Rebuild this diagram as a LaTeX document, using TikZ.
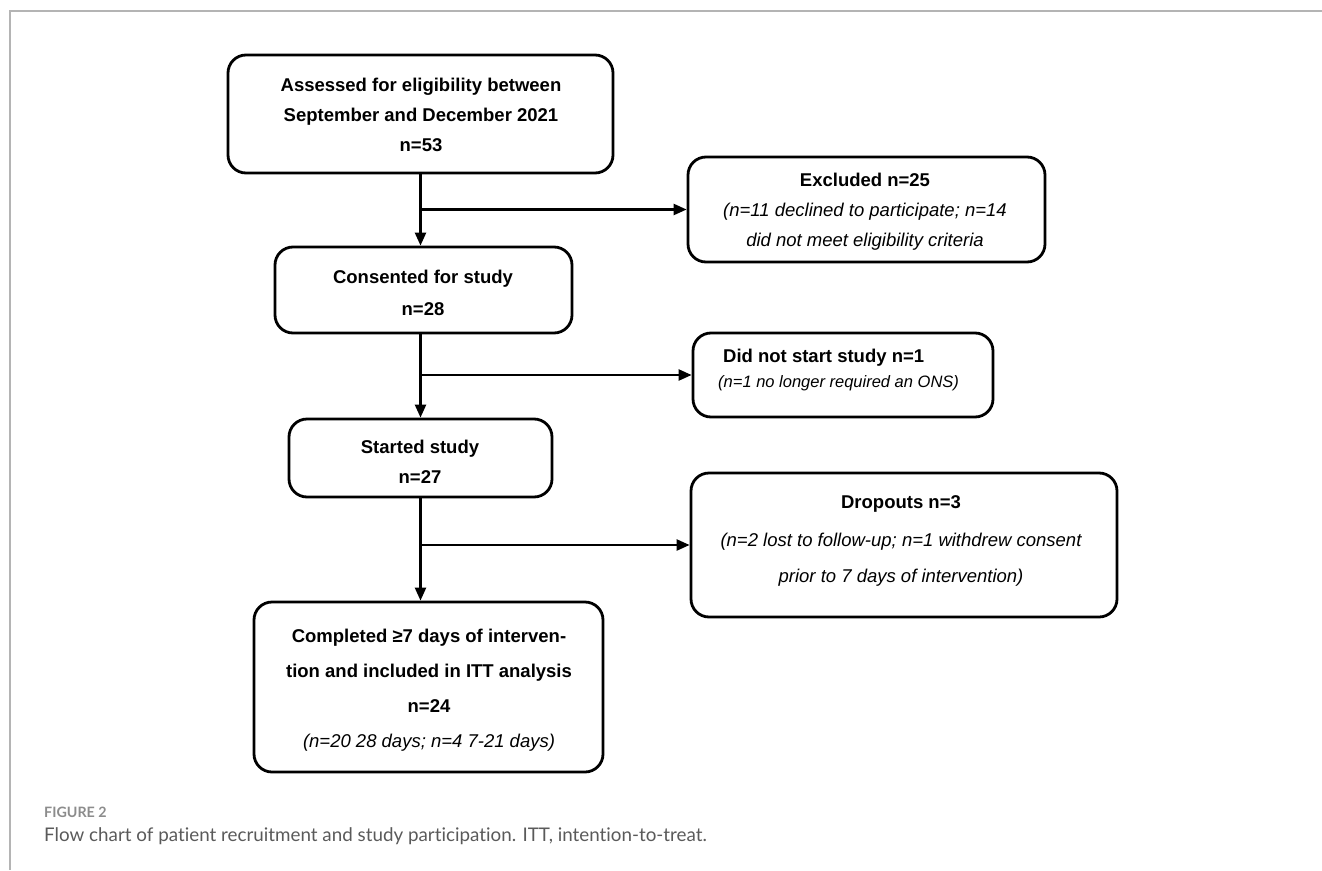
\documentclass[tikz,border=0pt]{standalone}
\usepackage{fontspec}
\setmainfont{Liberation Sans}
\newfontfamily\capfont[Ligatures={NoCommon,NoRare}]{Lato}
\usetikzlibrary{arrows.meta,calc}
\definecolor{framegray}{HTML}{B4B4B4}
\definecolor{figgray}{HTML}{8C8C8C}
\definecolor{capgray}{HTML}{5A5A5A}
\tikzset{
  box/.style={draw, line width=2.8pt, rounded corners=18pt, inner sep=0pt},
  txt/.style={align=center, inner sep=0pt, font=\fontsize{18.5}{30}\selectfont},
  arr/.style={line width=2.4pt, -{Triangle[length=13pt,width=11pt]}},
}
\begin{document}
\begin{tikzpicture}[x=1pt,y=-1pt]
\useasboundingbox (0,0) rectangle (1322,870);
\draw[framegray, line width=1.5pt] (10,870) -- (10,11) -- (1322,11);

% boxes
\node[box, minimum width=385pt, minimum height=118pt] (b1) at (420.5,114) {};
\node[box, minimum width=357pt, minimum height=105pt] (excl) at (866.5,209.5) {};
\node[box, minimum width=297pt, minimum height=86pt] (cons) at (423.5,290) {};
\node[box, minimum width=300pt, minimum height=84pt] (dns) at (843,375) {};
\node[box, minimum width=263pt, minimum height=78pt] (st) at (420.5,458) {};
\node[box, minimum width=426pt, minimum height=144pt] (drop) at (904,545) {};
\node[box, minimum width=349pt, minimum height=170pt] (comp) at (428.5,687) {};

% texts
\node[txt] (t1) at (421,115) {\bfseries Assessed for eligibility between\\\bfseries September and December 2021\\\bfseries n=53};
\node[txt] (t2) at (865,212) {\bfseries Excluded n=25\\\itshape (n=11 declined to participate; n=14\\\itshape did not meet eligibility criteria};
\node[txt] (t3) at (423,293) {\bfseries Consented for study\\[2pt]\bfseries n=28};
\node[txt, align=left, anchor=west] (t4) at (718,370) {\hspace*{5pt}\bfseries Did not start study n=1\\[-5pt]{\itshape\fontsize{16.5}{20}\selectfont (n=1 no longer required an ONS)}};
\node[txt] (t5) at (420,462) {\bfseries Started study\\\bfseries n=27};
\node[txt] (t6) at (901,541) {\bfseries Dropouts n=3\\[8pt]\itshape (n=2 lost to follow-up; n=1 withdrew consent\\[6pt]\itshape prior to 7 days of intervention)};
\node[txt] (t7) at (429,690) {\bfseries Completed ≥7 days of interven-\\[5pt]\bfseries tion and included in ITT analysis\\[5pt]\bfseries n=24\\[5pt]\itshape (n=20 28 days; n=4 7-21 days)};

% connectors
\draw[arr] (b1.south) -- (b1.south |- cons.north);
\draw[arr] (b1.south |- excl.west) -- (excl.west);
\draw[arr] (b1.south |- cons.south) -- (b1.south |- st.north);
\draw[arr] (b1.south |- dns.west) -- (dns.west);
\draw[arr] (b1.south |- st.south) -- (b1.south |- comp.north);
\draw[arr] (b1.south |- drop.west) -- (drop.west);

% caption
\node[anchor=base west, inner sep=0pt, text=figgray, font=\capfont\bfseries\fontsize{14.3}{16}\selectfont] (fig) at (44,817) {FIGURE 2};
\node[anchor=base west, inner sep=0pt, text=capgray, font=\capfont\fontsize{18.8}{22}\selectfont] (cap) at (44,841) {Flow chart of patient recruitment and study participation. ITT, intention-to-treat.};
\end{tikzpicture}
\end{document}
